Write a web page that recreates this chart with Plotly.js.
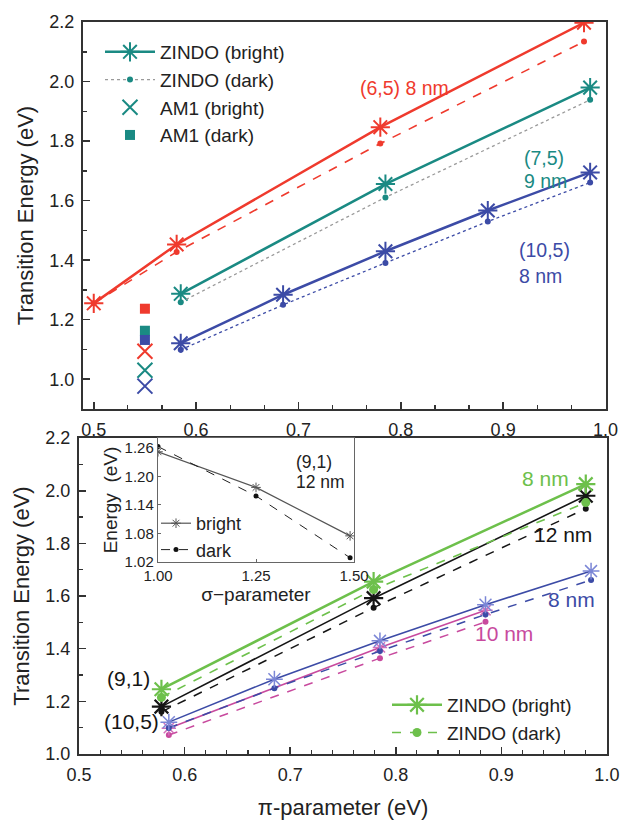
<!DOCTYPE html>
<html>
<head>
<meta charset="utf-8">
<script src="https://cdn.plot.ly/plotly-3.0.1.min.js"></script>
<style>html,body{margin:0;padding:0;background:#fff}#chart{width:620px;height:821px}</style>
</head>
<body>
<div id="chart"></div>
<script>
// ---------- top panel data ----------
const pi65 = [0.500, 0.581, 0.780, 0.979];
const bright65 = [1.255, 1.453, 1.847, 2.198];
const dark65 = [1.255, 1.428, 1.792, 2.135];
const pi75 = [0.585, 0.785, 0.985];
const bright75 = [1.287, 1.656, 1.980];
const dark75 = [1.259, 1.611, 1.939];
const pi105 = [0.585, 0.685, 0.785, 0.885, 0.985];
const bright105 = [1.121, 1.284, 1.430, 1.567, 1.695];
const dark105 = [1.099, 1.250, 1.391, 1.530, 1.661];
const am1Pi = 0.55;
const am1Bright = [1.094, 1.030, 0.977]; // (6,5), (7,5), (10,5)
const am1Dark = [1.237, 1.163, 1.132];

// ---------- bottom panel data ----------
const pi8nm = [0.578, 0.779, 0.980];
const bright8nm = [1.246, 1.655, 2.025];
const dark8nm = [1.215, 1.625, 1.955];
const pi91 = [0.578, 0.779, 0.980];
const bright91 = [1.180, 1.592, 1.981];
const dark91 = [1.160, 1.556, 1.932];
const pi10nm = [0.585, 0.785, 0.885];
const bright10nm = [1.098, 1.405, 1.546];
const dark10nm = [1.072, 1.364, 1.502];

// ---------- inset data ----------
const sigma = [1.00, 1.25, 1.49];
const insetBright = [1.252, 1.177, 1.075];
const insetDark = [1.263, 1.159, 1.029];

const RED = '#ef3a2d', TEAL = '#1a8a83', BLUE = '#3c4ba6', GREEN = '#6dc04b',
      MAG = '#c84a9e', BLK = '#151515', LBLUE = '#7b86d6', LMAG = '#d36fbb';
const FONT = 'Liberation Sans, Arial, Helvetica, sans-serif';

function star(color, size, w) { return {symbol: 'asterisk-open', size: size, color: color, line: {color: color, width: w}}; }
function dot(color, size) { return {symbol: 'circle', size: size, color: color, line: {width: 0}}; }

const traces = [
  // top panel
  {x: pi75, y: bright75, xaxis: 'x', yaxis: 'y', mode: 'lines+markers', name: 'ZINDO (bright)',
   line: {color: TEAL, width: 2.5}, marker: star(TEAL, 16, 2), legend: 'legend'},
  {x: pi75, y: dark75, xaxis: 'x', yaxis: 'y', mode: 'lines+markers', name: 'ZINDO (dark)',
   line: {color: '#9a9a9a', width: 1.3, dash: 'dot'}, marker: dot(TEAL, 6), legend: 'legend'},
  {x: [am1Pi], y: [am1Bright[1]], xaxis: 'x', yaxis: 'y', mode: 'markers', name: 'AM1 (bright)',
   marker: {symbol: 'x-thin-open', size: 15, color: TEAL, line: {color: TEAL, width: 2}}, legend: 'legend'},
  {x: [am1Pi], y: [am1Dark[1]], xaxis: 'x', yaxis: 'y', mode: 'markers', name: 'AM1 (dark)',
   marker: {symbol: 'square', size: 10, color: TEAL, line: {width: 0}}, legend: 'legend'},
  {x: pi65, y: dark65, xaxis: 'x', yaxis: 'y', mode: 'lines+markers', showlegend: false,
   line: {color: RED, width: 1.6, dash: 'dash'}, marker: dot(RED, 6)},
  {x: pi65, y: bright65, xaxis: 'x', yaxis: 'y', mode: 'lines+markers', showlegend: false,
   line: {color: RED, width: 2.5}, marker: star(RED, 16, 2)},
  {x: pi105, y: dark105, xaxis: 'x', yaxis: 'y', mode: 'lines+markers', showlegend: false,
   line: {color: BLUE, width: 1.3, dash: 'dot'}, marker: dot(BLUE, 6)},
  {x: pi105, y: bright105, xaxis: 'x', yaxis: 'y', mode: 'lines+markers', showlegend: false,
   line: {color: BLUE, width: 2.5}, marker: star(BLUE, 16, 2)},
  {x: [am1Pi], y: [am1Dark[0]], xaxis: 'x', yaxis: 'y', mode: 'markers', showlegend: false,
   marker: {symbol: 'square', size: 10, color: RED, line: {width: 0}}},
  {x: [am1Pi], y: [am1Dark[2]], xaxis: 'x', yaxis: 'y', mode: 'markers', showlegend: false,
   marker: {symbol: 'square', size: 10, color: BLUE, line: {width: 0}}},
  {x: [am1Pi], y: [am1Bright[0]], xaxis: 'x', yaxis: 'y', mode: 'markers', showlegend: false,
   marker: {symbol: 'x-thin-open', size: 15, color: RED, line: {color: RED, width: 2}}},
  {x: [am1Pi], y: [am1Bright[2]], xaxis: 'x', yaxis: 'y', mode: 'markers', showlegend: false,
   marker: {symbol: 'x-thin-open', size: 15, color: BLUE, line: {color: BLUE, width: 2}}},

  // bottom panel
  {x: pi10nm, y: dark10nm, xaxis: 'x2', yaxis: 'y2', mode: 'lines+markers', showlegend: false,
   line: {color: MAG, width: 1.5, dash: 'dash'}, marker: dot(MAG, 6)},
  {x: pi10nm, y: bright10nm, xaxis: 'x2', yaxis: 'y2', mode: 'lines+markers', showlegend: false,
   line: {color: MAG, width: 1.6}, marker: star(LMAG, 12, 1.5)},
  {x: pi105, y: dark105, xaxis: 'x2', yaxis: 'y2', mode: 'lines+markers', showlegend: false,
   line: {color: BLUE, width: 1.5, dash: 'dash'}, marker: dot(BLUE, 6)},
  {x: pi105, y: bright105, xaxis: 'x2', yaxis: 'y2', mode: 'lines+markers', showlegend: false,
   line: {color: BLUE, width: 1.6}, marker: star(LBLUE, 14, 1.5)},
  {x: pi91, y: dark91, xaxis: 'x2', yaxis: 'y2', mode: 'lines+markers', showlegend: false,
   line: {color: BLK, width: 1.5, dash: 'dash'}, marker: dot(BLK, 6)},
  {x: pi91, y: bright91, xaxis: 'x2', yaxis: 'y2', mode: 'lines+markers', showlegend: false,
   line: {color: BLK, width: 1.6}, marker: star(BLK, 16, 2.2)},
  {x: pi8nm, y: bright8nm, xaxis: 'x2', yaxis: 'y2', mode: 'lines+markers', name: 'ZINDO (bright)',
   line: {color: GREEN, width: 2.5}, marker: star(GREEN, 16, 2.2), legend: 'legend2'},
  {x: pi8nm, y: dark8nm, xaxis: 'x2', yaxis: 'y2', mode: 'lines+markers', name: 'ZINDO (dark)',
   line: {color: GREEN, width: 1.6, dash: 'dash'}, marker: dot(GREEN, 9), legend: 'legend2'},

  // inset
  {x: sigma, y: insetBright, xaxis: 'x3', yaxis: 'y3', mode: 'lines+markers', name: 'bright',
   line: {color: '#555', width: 1.2}, marker: star('#555', 8, 1), legend: 'legend3'},
  {x: sigma, y: insetDark, xaxis: 'x3', yaxis: 'y3', mode: 'lines+markers', name: 'dark',
   line: {color: '#222', width: 1, dash: 'dash'}, marker: dot('#111', 5), legend: 'legend3'}
];

const W = 620, H = 821;
const px = v => v / W, py = v => 1 - v / H;
const tickFont = {family: FONT, size: 18, color: '#222'};
const titleFont = {family: FONT, size: 22, color: '#222'};

function mainAxis(extra) {
  return Object.assign({
    showgrid: false, zeroline: false, showline: true, mirror: true,
    linecolor: '#333', linewidth: 2, ticks: 'inside', ticklen: 7, tickwidth: 1.5, tickcolor: '#333',
    tickfont: tickFont, ticklabelstandoff: 3
  }, extra);
}
function ann(text, x, y, color, size, anchor) {
  return {text: text, x: px(x), y: py(y), xref: 'paper', yref: 'paper', xanchor: anchor || 'left',
          showarrow: false, font: {family: FONT, size: size, color: color}};
}

const layout = {
  width: W, height: H,
  margin: {l: 0, r: 0, t: 0, b: 0},
  paper_bgcolor: '#fff', plot_bgcolor: 'rgba(0,0,0,0)',
  font: {family: FONT, color: '#222'},
  xaxis: mainAxis({domain: [px(83), px(606)], range: [0.4895, 1.0005], anchor: 'y',
    tick0: 0.5, dtick: 0.1, tickformat: '.1f',
    minor: {tick0: 0.5, dtick: 0.1 / 3, ticks: 'inside', ticklen: 4, tickwidth: 1.2, tickcolor: '#333'}}),
  yaxis: mainAxis({domain: [py(409), py(22)], range: [0.9, 2.2005], anchor: 'x',
    dtick: 0.2, tickformat: '.1f',
    minor: {dtick: 0.1, ticks: 'inside', ticklen: 4, tickwidth: 1.2, tickcolor: '#333'},
    title: {text: 'Transition Energy (eV)', font: titleFont, standoff: 10}}),
  xaxis2: mainAxis({domain: [px(79), px(607)], range: [0.4999, 1.0001], anchor: 'y2',
    dtick: 0.1, tickformat: '.1f',
    minor: {dtick: 0.02, ticks: 'inside', ticklen: 4, tickwidth: 1.2, tickcolor: '#333'},
    title: {text: 'π-parameter (eV)', font: titleFont, standoff: 16}}),
  yaxis2: mainAxis({domain: [py(754), py(438)], range: [0.9999, 2.2005], anchor: 'x2',
    dtick: 0.2, tickformat: '.1f',
    minor: {dtick: 0.1, ticks: 'inside', ticklen: 4, tickwidth: 1.2, tickcolor: '#333'},
    title: {text: 'Transition Energy (eV)', font: titleFont, standoff: 10}}),
  xaxis3: {domain: [px(158), px(354)], range: [1.0, 1.5], anchor: 'y3',
    tickvals: [1.0, 1.25, 1.5], tickformat: '.2f',
    showgrid: false, zeroline: false, showline: true, mirror: true, linecolor: '#666', linewidth: 1.2,
    ticks: 'inside', ticklen: 3, tickcolor: '#666', tickfont: {family: FONT, size: 15, color: '#222'},
    title: {text: 'σ−parameter', font: {family: FONT, size: 19, color: '#222'}, standoff: 2}},
  yaxis3: {domain: [py(562), py(438)], range: [1.02, 1.281], anchor: 'x3',
    tick0: 1.02, dtick: 0.06, tickformat: '.2f',
    showgrid: false, zeroline: false, showline: true, mirror: true, linecolor: '#666', linewidth: 1.2,
    ticks: 'inside', ticklen: 3, tickcolor: '#666', tickfont: {family: FONT, size: 15, color: '#222'},
    title: {text: 'Energy  (eV)', font: {family: FONT, size: 19, color: '#222'}, standoff: 2}},
  legend: {x: px(100), y: py(33), xanchor: 'left', yanchor: 'top', bgcolor: 'rgba(0,0,0,0)',
    font: {family: FONT, size: 19, color: '#222'}, itemwidth: 50, tracegroupgap: 0},
  legend2: {x: px(387), y: py(686), xanchor: 'left', yanchor: 'top', bgcolor: 'rgba(0,0,0,0)',
    font: {family: FONT, size: 19, color: '#222'}, itemwidth: 50},
  legend3: {x: px(156), y: py(505), xanchor: 'left', yanchor: 'top', bgcolor: 'rgba(0,0,0,0)',
    font: {family: FONT, size: 18, color: '#222'}, itemwidth: 30},
  annotations: [
    ann('(6,5) 8 nm', 404, 75, RED, 19.5, 'center'),
    ann('(7,5)', 522, 145, TEAL, 19.5),
    ann('9 nm', 522, 168, TEAL, 19.5),
    ann('(10,5)', 517, 237, BLUE, 19.5),
    ann('8 nm', 517, 263, BLUE, 19.5),
    ann('8 nm', 520, 478, GREEN, 21),
    ann('12 nm', 532, 548, BLK, 21),
    ann('8 nm', 546, 613, BLUE, 21),
    ann('10 nm', 473, 647, MAG, 21),
    ann('(9,1)', 105, 692, BLK, 21),
    ann('(10,5)', 102, 735, BLK, 21),
    ann('(9,1)', 294, 462, '#222', 17.5),
    ann('12 nm', 294, 482, '#222', 17.5)
  ]
};

Plotly.newPlot('chart', traces, layout, {staticPlot: true, displayModeBar: false});
</script>
</body>
</html>
